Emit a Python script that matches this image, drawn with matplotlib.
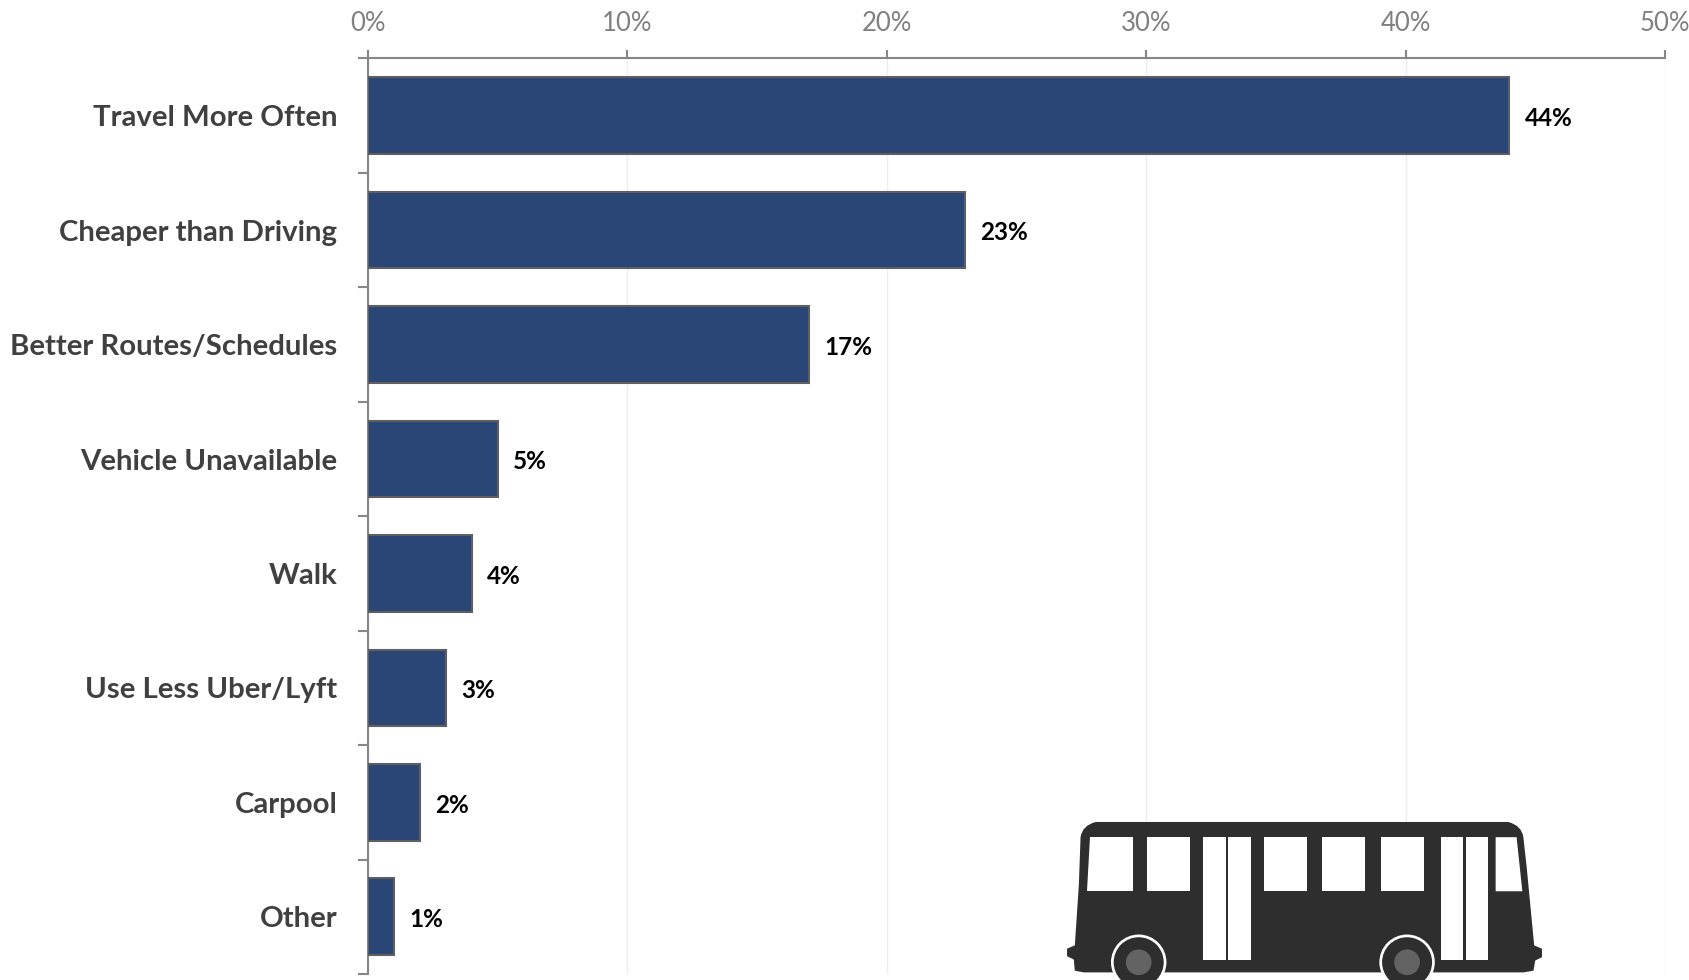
import matplotlib
matplotlib.use("Agg")
import matplotlib.pyplot as plt
from matplotlib.patches import Circle, PathPatch, Polygon
from matplotlib.path import Path

plt.rcParams["font.family"] = ["Lato", "DejaVu Sans"]

categories = ["Travel More Often", "Cheaper than Driving", "Better Routes/Schedules",
              "Vehicle Unavailable", "Walk", "Use Less Uber/Lyft", "Carpool", "Other"]
values = [44, 23, 17, 5, 4, 3, 2, 1]
x_ticks = [0, 10, 20, 30, 40, 50]

W, H = 1690, 980
fig = plt.figure(figsize=(W / 100, H / 100), dpi=100)
ax = fig.add_axes([368 / W, (H - 974) / H, (1665 - 368) / W, (974 - 58.5) / H])

pos = list(range(len(categories)))
ax.barh(pos, values, height=0.67, color="#2a4676", edgecolor="#5f5f5f", linewidth=1.5, zorder=3)
ax.set_xlim(0, 50)
ax.set_ylim(len(categories) - 0.5, -0.5)

ax.xaxis.tick_top()
ax.set_xticks(x_ticks)
ax.set_xticklabels([f"{t}%" for t in x_ticks], fontsize=18.5, color="#808080")
ax.tick_params(axis="x", length=6, width=1.5, color="#868686", pad=10.5)
ax.grid(axis="x", color="#eeeeee", linewidth=1, zorder=0)

# ticks sit between the bars, labels on the bar centres
ax.set_yticks([p - 0.5 for p in pos] + [len(categories) - 0.5])
ax.set_yticklabels([])
ax.tick_params(axis="y", which="major", length=7, width=1.5, color="#868686")
ax.set_yticks(pos, minor=True)
ax.set_yticklabels(categories, minor=True, fontsize=21.2, fontweight="bold", color="#404040")
ax.tick_params(axis="y", which="minor", length=0, pad=22)

for s in ["right", "bottom"]:
    ax.spines[s].set_visible(False)
for s in ["top", "left"]:
    ax.spines[s].set_color("#868686")
    ax.spines[s].set_linewidth(1.5)

for p, v in zip(pos, values):
    ax.annotate(f"{v}%", (v, p), xytext=(11, -2), textcoords="offset points",
                ha="left", va="center", fontsize=17.5, fontweight="bold", color="black")

# bus picture, in its own pixel box
bus = fig.add_axes([1040 / W, 0, 530 / W, 180 / H], zorder=5)
bus.set_xlim(0, 1568)
bus.set_ylim(532.5, 0)
bus.axis("off")
dark = "#2e2e2e"
verts = [(165, 65), (1385, 65), (1425, 75), (1430, 110), (1440, 200), (1462, 430), (1485, 440), (1485, 465),
         (1465, 475), (1460, 505), (1430, 510), (130, 510), (103, 505), (100, 472), (80, 462), (80, 440), (103, 430),
         (115, 250), (120, 110), (125, 75), (165, 65)]
codes = [Path.MOVETO, Path.LINETO, Path.CURVE3, Path.CURVE3, Path.LINETO, Path.LINETO, Path.LINETO, Path.LINETO,
         Path.LINETO, Path.LINETO, Path.LINETO, Path.LINETO, Path.LINETO, Path.LINETO, Path.LINETO, Path.LINETO,
         Path.LINETO, Path.LINETO, Path.LINETO, Path.CURVE3, Path.CURVE3]
bus.add_patch(PathPatch(Path(verts, codes), facecolor=dark, edgecolor="none"))
windows = [[(147, 110), (275, 110), (275, 270), (140, 270)],
           [(318, 110), (443, 110), (443, 270), (318, 270)],
           [(483, 110), (549, 110), (549, 473), (483, 473)],
           [(557, 110), (623, 110), (623, 473), (557, 473)],
           [(663, 110), (789, 110), (789, 270), (663, 270)],
           [(835, 110), (961, 110), (961, 270), (835, 270)],
           [(1008, 110), (1135, 110), (1135, 270), (1008, 270)],
           [(1186, 110), (1251, 110), (1251, 473), (1186, 473)],
           [(1260, 110), (1325, 110), (1325, 473), (1260, 473)],
           [(1348, 110), (1410, 110), (1427, 270), (1348, 270)]]
for w in windows:
    bus.add_patch(Polygon(w, closed=True, facecolor="white", edgecolor="none"))
for cx in [292, 1086]:
    bus.add_patch(Circle((cx, 480), 82, facecolor="white", edgecolor="none"))
    bus.add_patch(Circle((cx, 480), 74, facecolor=dark, edgecolor="none"))
    bus.add_patch(Circle((cx, 480), 38, facecolor="#636363", edgecolor="none"))

fig.savefig("out.png", dpi=100)
